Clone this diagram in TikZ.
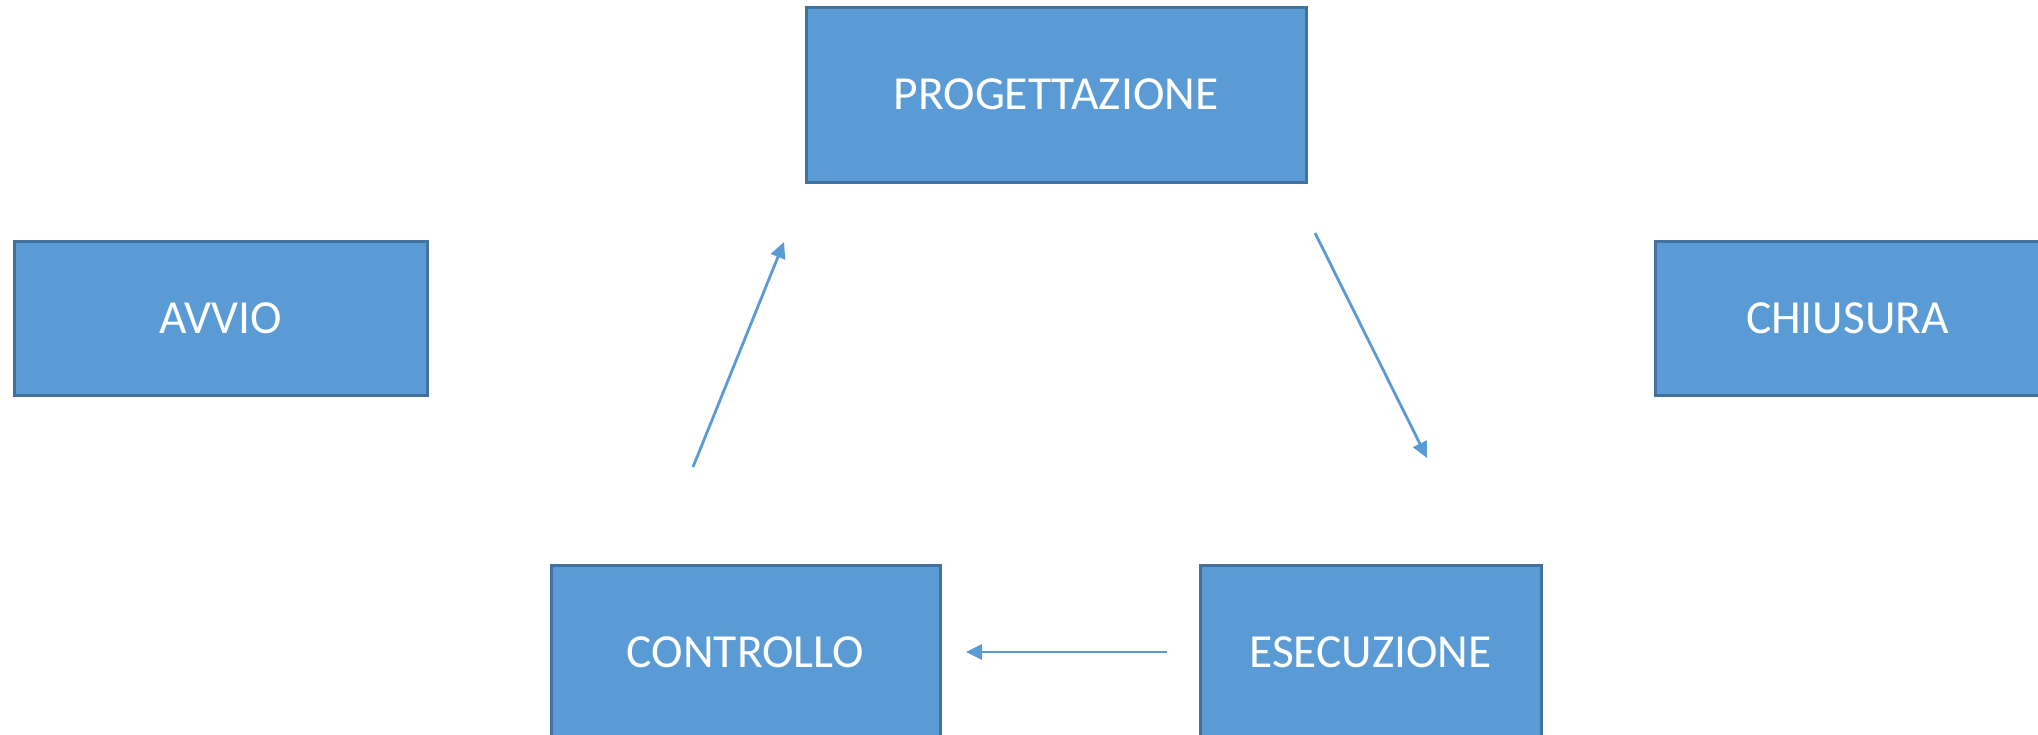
\documentclass[tikz,border=0pt]{standalone}
\usepackage{fontspec}
\setmainfont{Carlito}
\usetikzlibrary{arrows.meta}
\definecolor{boxfill}{HTML}{5B9BD5}
\definecolor{boxline}{HTML}{41719C}
\definecolor{arrowcol}{HTML}{5B9BD5}
\tikzset{
  phase/.style={rectangle, draw=boxline, fill=boxfill, line width=3pt, text=white,
    font=\fontsize{47.5}{56}\selectfont, inner sep=0pt},
  flow/.style={draw=arrowcol, line width=2.8pt, -{Triangle[length=16pt,width=15pt]}}
}
\begin{document}
\begin{tikzpicture}[x=1pt,y=-1pt]
\useasboundingbox (0,0) rectangle (2038,734);
\clip (0,0) rectangle (2038,734);
\fill[white] (0,0) rectangle (2038,734);
\node[phase, minimum width=500pt, minimum height=175pt] (prog) at (1056,94.5) {PROGETTAZIONE};
\node[phase, minimum width=413pt, minimum height=154pt] (avvio) at (220.5,318) {AVVIO};
\node[phase, minimum width=385pt, minimum height=154pt] (chius) at (1847.5,318) {CHIUSURA};
\node[phase, minimum width=389pt, minimum height=175pt] (contr) at (745.5,652.5) {CONTROLLO};
\node[phase, minimum width=341pt, minimum height=175pt] (esec) at (1370.5,652.5) {ESECUZIONE};
\coordinate (a1s) at (693,467);
\coordinate (a1e) at (784,242);
\coordinate (a2s) at (1315,233);
\coordinate (a2e) at (1427,458);
\coordinate (a3s) at (1167,652);
\coordinate (a3e) at (966,652);
\draw[flow] (a1s) -- (a1e);
\draw[flow] (a2s) -- (a2e);
\draw[flow] (a3s) -- (a3e);
\end{tikzpicture}
\end{document}
